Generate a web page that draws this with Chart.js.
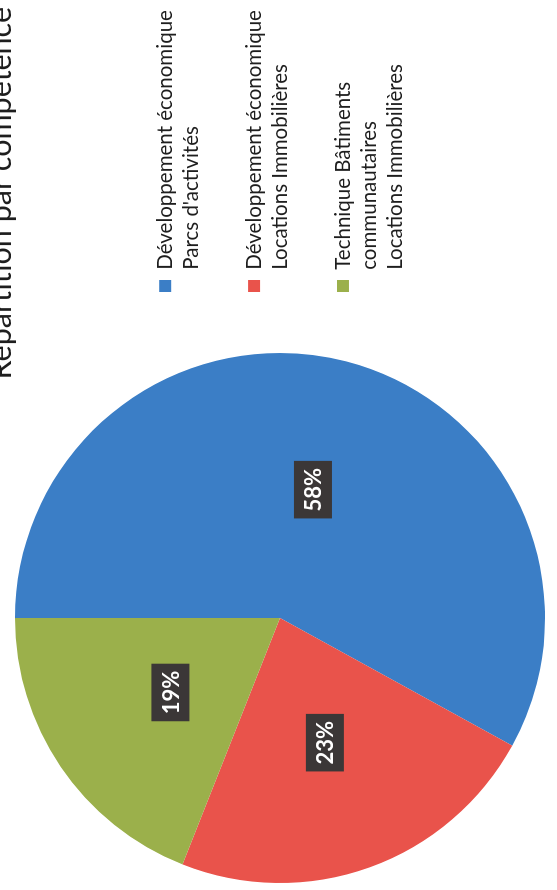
<!DOCTYPE html>
<html>
<head>
<meta charset="utf-8">
<script src="https://cdn.jsdelivr.net/npm/chart.js@4/dist/chart.umd.min.js"></script>
<style>
    html, body { margin: 0; padding: 0; background: #fff; overflow: hidden; }
    body { width: 557px; height: 890px; position: relative; }
    /* le graphique est scanné tourné d'un quart de tour */
    #cadre {
        position: absolute;
        left: -11px;
        top: 908px;
        width: 905px;
        height: 556px;
        transform: rotate(-90deg);
        transform-origin: 0 0;
    }
</style>
</head>
<body>
<div id="cadre"><canvas id="competenceChart" width="905" height="556"></canvas></div>
<script>
const titre = "Répartition par compétence";
const competences = [
    ["Développement économique", "Parcs d'activités"],
    ["Développement économique", "Locations Immobilières"],
    ["Technique Bâtiments", "communautaires", "Locations Immobilières"]
];
const parts = [58, 23, 19];
const couleurs = ["#3b7ec6", "#e9534b", "#9bb04b"];

addEventListener("load", inicializarGrafica, false);

function inicializarGrafica() {
    dibujarGrafica(competences, parts);
}

// étiquettes "58%" sur fond sombre, au centre de chaque part
const etiquettesParts = {
    id: "etiquettesParts",
    afterDatasetsDraw(chart) {
        let ctx = chart.ctx;
        let meta = chart.getDatasetMeta(0);
        let donnees = chart.data.datasets[0].data;
        let total = donnees.reduce((a, b) => a + b, 0);
        ctx.save();
        ctx.font = "bold 22px Lato";
        ctx.textAlign = "center";
        ctx.textBaseline = "middle";
        meta.data.forEach((arc, i) => {
            let pos = arc.tooltipPosition();
            let texte = Math.round(donnees[i] / total * 100) + "%";
            let w = ctx.measureText(texte).width + 14;
            let h = 38;
            ctx.fillStyle = "#3b3737";
            ctx.fillRect(pos.x - w / 2, pos.y - h / 2, w, h);
            ctx.fillStyle = "#ffffff";
            ctx.fillText(texte, pos.x, pos.y + 1);
        });
        ctx.restore();
    }
};

function dibujarGrafica(etiquettes, valeurs) {
    let ctx = document.getElementById("competenceChart").getContext("2d");
    new Chart(ctx, {
        type: "pie",
        data: {
            labels: etiquettes,
            datasets: [{
                data: valeurs,
                backgroundColor: couleurs,
                borderWidth: 0,
                hoverOffset: 0
            }]
        },
        options: {
            responsive: false,
            animation: false,
            events: [],
            layout: {
                padding: { left: 0, right: 4, top: 0, bottom: 0 }
            },
            plugins: {
                title: {
                    display: true,
                    text: titre,
                    align: "end",
                    color: "#1e1e1e",
                    font: { family: "Lato", size: 30.5, weight: "normal", lineHeight: 1.2 },
                    padding: { top: -6, bottom: -4.6 }
                },
                legend: {
                    position: "right",
                    maxWidth: 321,
                    // titre vide : décale les entrées vers le bas
                    title: {
                        display: true,
                        text: "",
                        padding: 0,
                        font: { size: 33, lineHeight: 1 }
                    },
                    labels: {
                        color: "#1e1e1e",
                        boxWidth: 12,
                        boxHeight: 12,
                        padding: 36,
                        font: { family: "Lato", size: 20.5, lineHeight: 1.29 }
                    }
                },
                tooltip: { enabled: false }
            }
        },
        plugins: [etiquettesParts]
    });
}
</script>
</body>
</html>
